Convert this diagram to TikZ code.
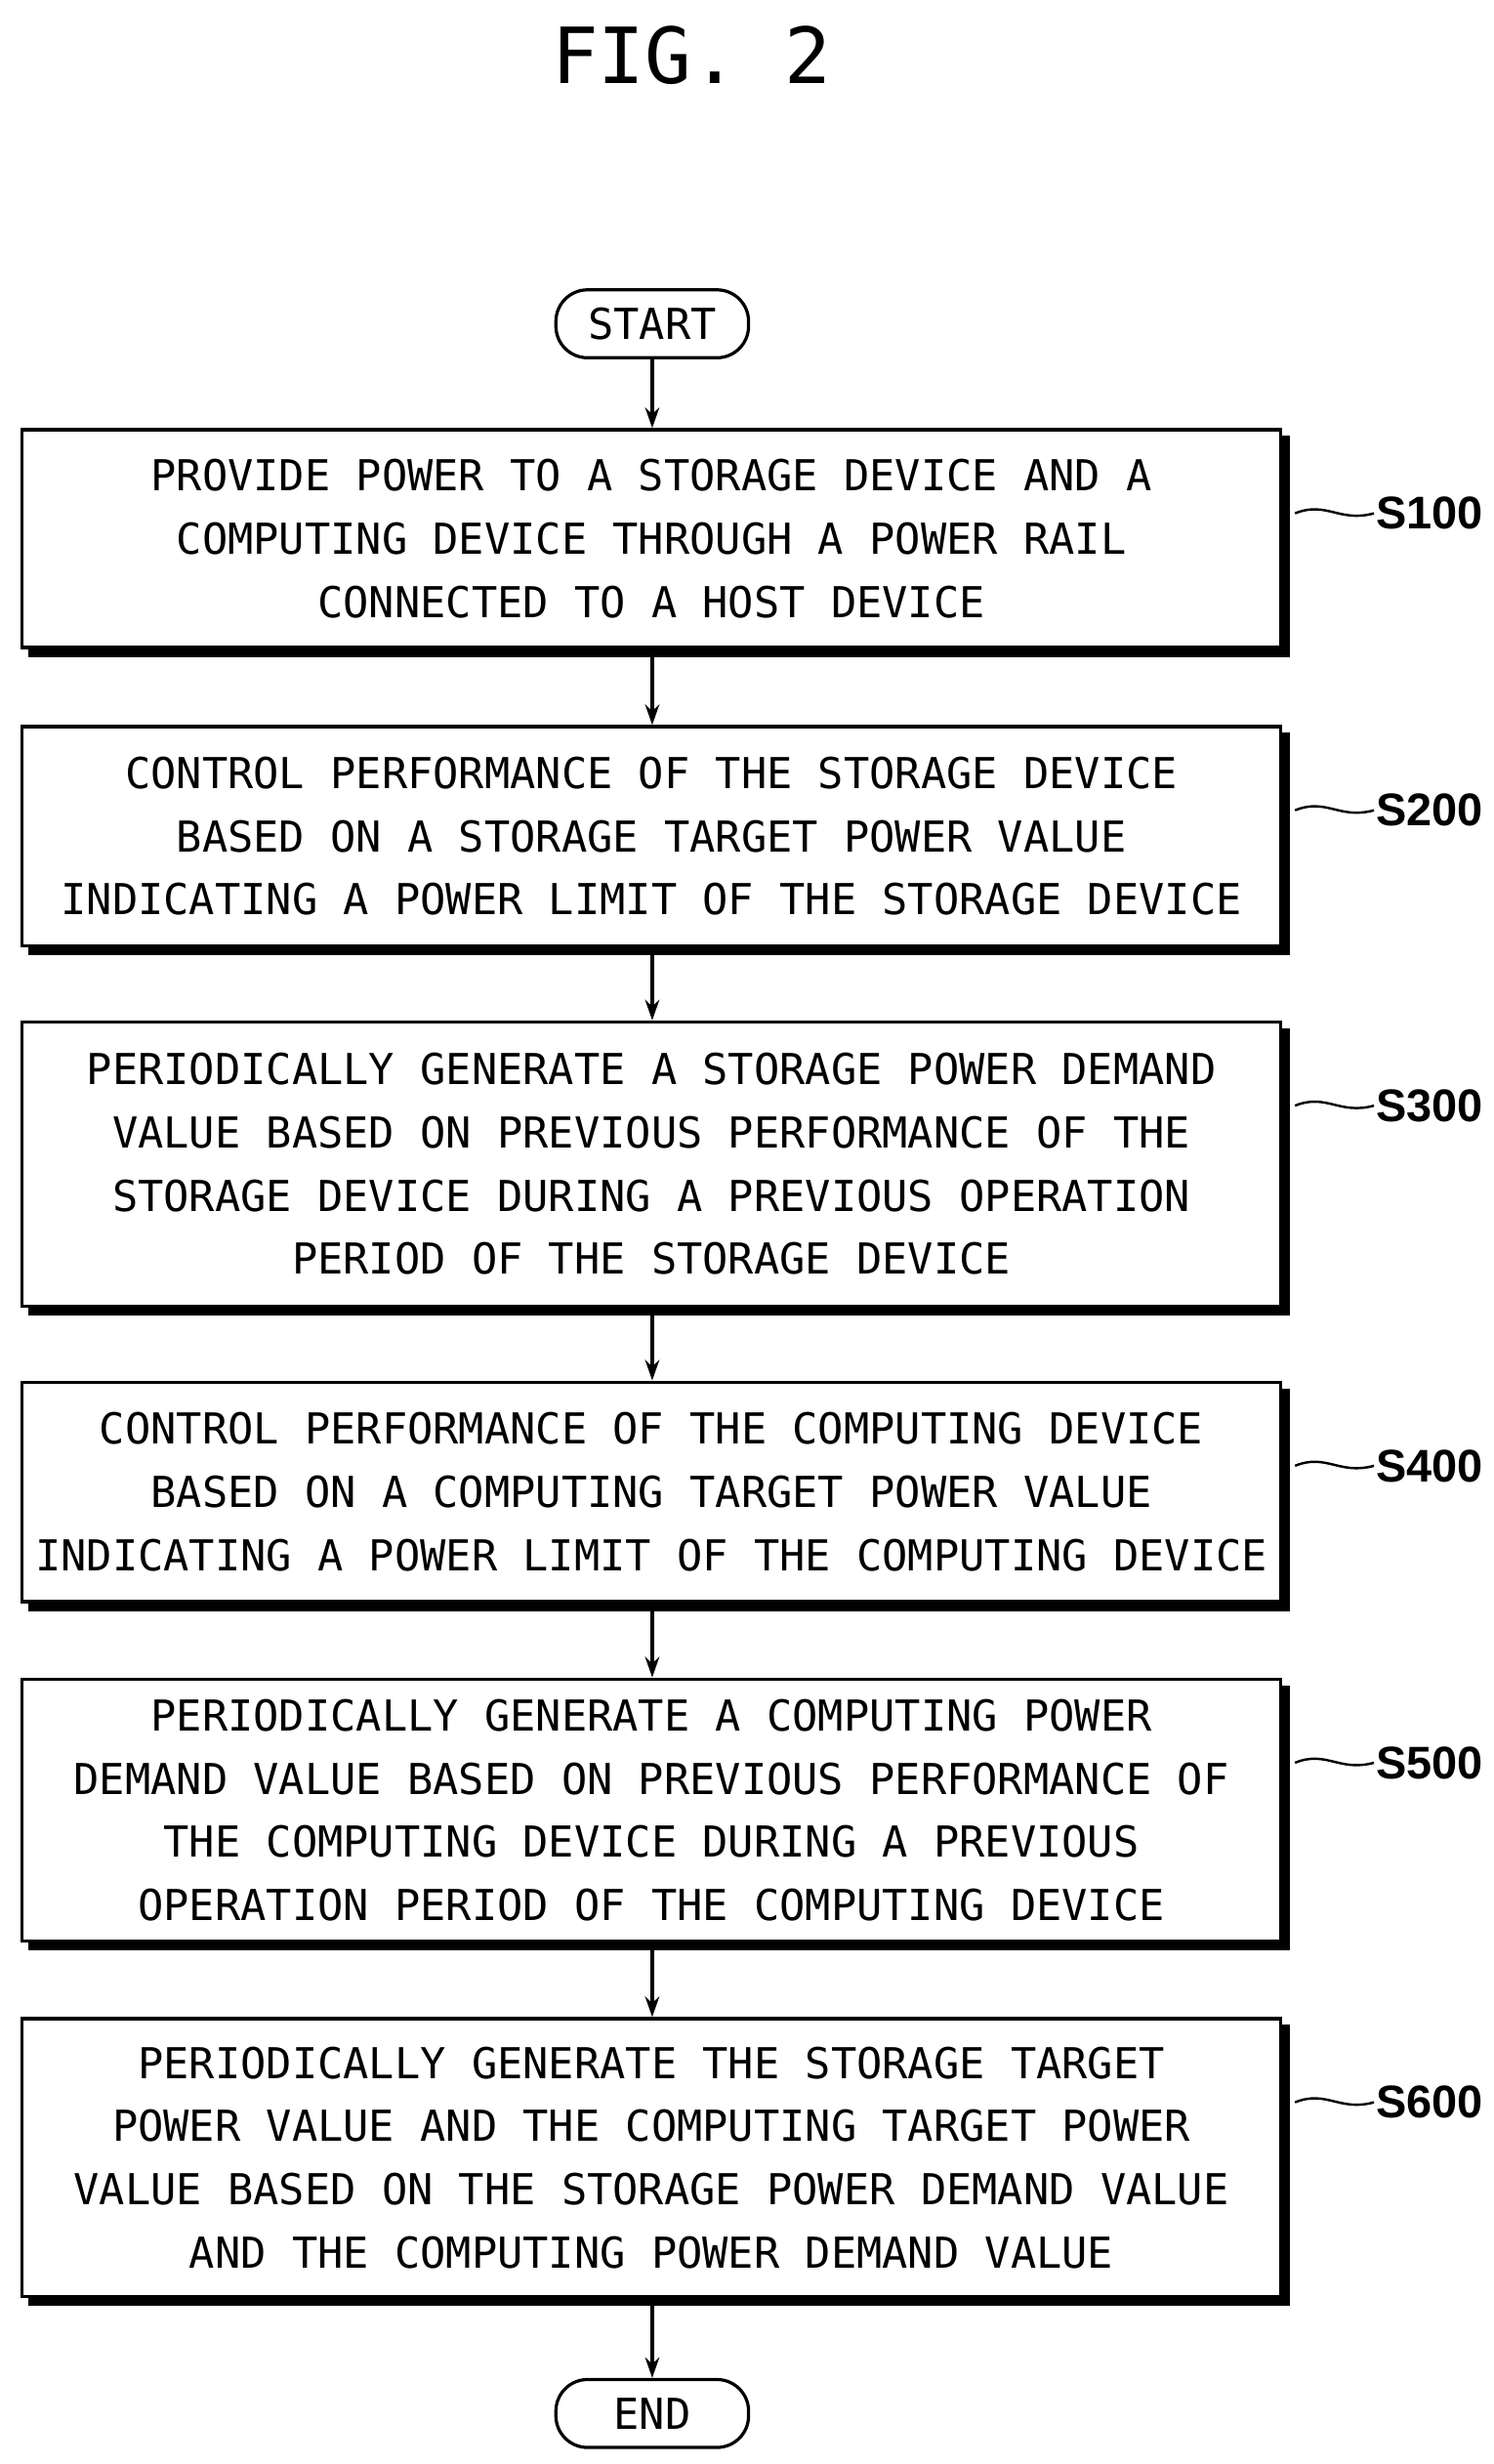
\documentclass[tikz,border=0pt]{standalone}
\usepackage{fontspec}
\usetikzlibrary{arrows.meta}
\setmonofont{DejaVu Sans Mono}
\newfontfamily\lblfont{Liberation Sans}
\begin{document}
\begin{tikzpicture}[x=1pt,y=-1pt,
  stepbox/.style={draw,line width=2pt,fill=white,minimum width=797pt,anchor=north west,align=center,
    font=\fontsize{27}{40}\ttfamily,inner sep=0pt},
  term/.style={draw,line width=2pt,rounded corners=20pt,minimum width=122pt,minimum height=43pt,font=\fontsize{27}{30}\ttfamily,inner sep=0pt},
  arr/.style={line width=2pt,-{Stealth[length=13pt,width=9pt]}},
  lbl/.style={font=\fontsize{29}{30}\lblfont\bfseries,anchor=west,inner sep=1pt}]
\useasboundingbox (0,0) rectangle (946,1560);
\node[font=\fontsize{49}{50}\ttfamily] (title) at (438,35) {FIG. 2};
\node[term] (start) at (413,205) {START};
\node[term] (end) at (413,1528) {END};
\def\mk#1#2#3#4{%
  \fill (13+5,#2+5) rectangle (812+5,#3+5);
  \node[stepbox,minimum height=#3-#2-2 pt] (#1) at (13,#2) {#4};
  \draw[line width=1.5pt] (820,#2+54) .. controls (840,#2+46) and (848,#2+60) .. (870,#2+54) coordinate (#1c);
  \node[lbl] (#1l) at (#1c) {\MakeUppercase{#1}};}
\mk{s100}{271}{411}{PROVIDE POWER TO A STORAGE DEVICE AND A\\COMPUTING DEVICE THROUGH A POWER RAIL\\CONNECTED TO A HOST DEVICE}
\mk{s200}{459}{600}{CONTROL PERFORMANCE OF THE STORAGE DEVICE\\BASED ON A STORAGE TARGET POWER VALUE\\INDICATING A POWER LIMIT OF THE STORAGE DEVICE}
\mk{s300}{646}{828}{PERIODICALLY GENERATE A STORAGE POWER DEMAND\\VALUE BASED ON PREVIOUS PERFORMANCE OF THE\\STORAGE DEVICE DURING A PREVIOUS OPERATION\\PERIOD OF THE STORAGE DEVICE}
\mk{s400}{874}{1015}{CONTROL PERFORMANCE OF THE COMPUTING DEVICE\\BASED ON A COMPUTING TARGET POWER VALUE\\INDICATING A POWER LIMIT OF THE COMPUTING DEVICE}
\mk{s500}{1062}{1230}{PERIODICALLY GENERATE A COMPUTING POWER\\DEMAND VALUE BASED ON PREVIOUS PERFORMANCE OF\\THE COMPUTING DEVICE DURING A PREVIOUS\\OPERATION PERIOD OF THE COMPUTING DEVICE}
\mk{s600}{1277}{1455}{PERIODICALLY GENERATE THE STORAGE TARGET\\POWER VALUE AND THE COMPUTING TARGET POWER\\VALUE BASED ON THE STORAGE POWER DEMAND VALUE\\AND THE COMPUTING POWER DEMAND VALUE}
\draw[arr] (start.south) -- (start.south|-s100.north);
\draw[arr] (s100.south-|start) -- (s200.north-|start);
\draw[arr] (s200.south-|start) -- (s300.north-|start);
\draw[arr] (s300.south-|start) -- (s400.north-|start);
\draw[arr] (s400.south-|start) -- (s500.north-|start);
\draw[arr] (s500.south-|start) -- (s600.north-|start);
\draw[arr] (s600.south-|start) -- (end.north);
\end{tikzpicture}
\end{document}
